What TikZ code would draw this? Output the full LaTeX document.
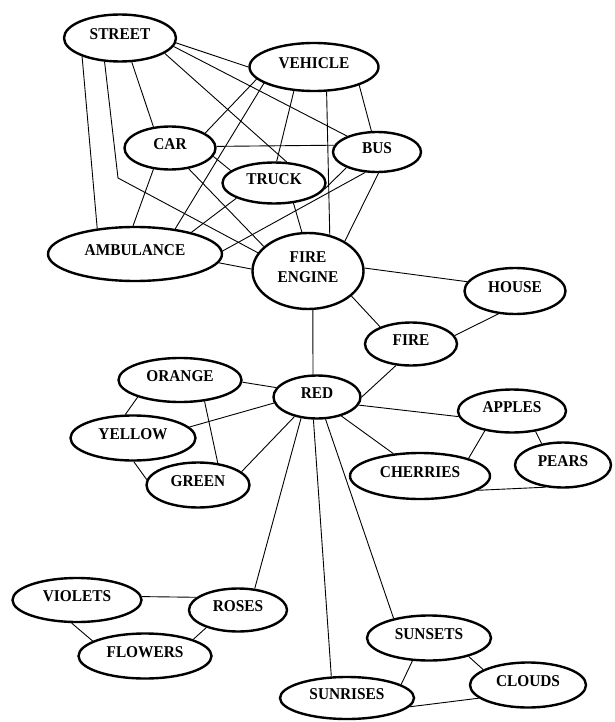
\documentclass[tikz,border=0pt]{standalone}
\usepackage{fontspec}
\setmainfont{Liberation Serif}[FakeStretch=0.93]
\usetikzlibrary{shapes.geometric}
\begin{document}
\begin{tikzpicture}[
        x=1pt, y=-1pt, line width=0.9pt,
        ovalnode/.style={
            draw, ellipse, line width=2.4pt, inner sep=0pt,
            minimum height=44pt, text depth=7pt,
            font=\fontsize{16.5}{20}\selectfont\bfseries
        }
    ]
    \useasboundingbox (0,0) rectangle (614,722);
    \node[ovalnode, minimum width=112pt, minimum height=47pt] (STREET) at (120, 38) {STREET};
    \node[ovalnode, minimum width=129pt, minimum height=48pt] (VEHICLE) at (314, 67) {VEHICLE};
    \node[ovalnode, minimum width=91pt, minimum height=43pt] (CAR) at (170, 148) {CAR};
    \node[ovalnode, minimum width=88pt, minimum height=40pt] (BUS) at (377, 152) {BUS};
    \node[ovalnode, minimum width=103pt, minimum height=41pt] (TRUCK) at (274, 183) {TRUCK};
    \node[ovalnode, minimum width=174pt, minimum height=54pt] (AMBULANCE) at (135, 254) {AMBULANCE};
    \node[ovalnode, minimum width=111pt, minimum height=76pt, align=center] (FIREENGINE) at (308, 271) {FIRE\\ENGINE};
    \node[ovalnode, minimum width=101pt, minimum height=46pt] (HOUSE) at (515, 291) {HOUSE};
    \node[ovalnode, minimum width=92pt, minimum height=43pt] (FIRE) at (411, 344) {FIRE};
    \node[ovalnode, minimum width=87pt, minimum height=43pt] (RED) at (317, 397) {RED};
    \node[ovalnode, minimum width=123pt] (ORANGE) at (180, 380) {ORANGE};
    \node[ovalnode, minimum width=125pt, minimum height=45pt] (YELLOW) at (133, 438) {YELLOW};
    \node[ovalnode, minimum width=103pt, minimum height=45pt] (GREEN) at (198, 485) {GREEN};
    \node[ovalnode, minimum width=108pt, minimum height=43pt] (APPLES) at (512, 411) {APPLES};
    \node[ovalnode, minimum width=140pt, minimum height=46pt] (CHERRIES) at (420, 476) {CHERRIES};
    \node[ovalnode, minimum width=96pt, minimum height=45pt] (PEARS) at (563, 465) {PEARS};
    \node[ovalnode, minimum width=129pt] (VIOLETS) at (77, 600) {VIOLETS};
    \node[ovalnode, minimum width=98pt, minimum height=43pt] (ROSES) at (238, 610) {ROSES};
    \node[ovalnode, minimum width=133pt, minimum height=45pt] (FLOWERS) at (145, 656) {FLOWERS};
    \node[ovalnode, minimum width=124pt, minimum height=45pt] (SUNSETS) at (429, 638) {SUNSETS};
    \node[ovalnode, minimum width=116pt, minimum height=45pt] (CLOUDS) at (528, 685) {CLOUDS};
    \node[ovalnode, minimum width=134pt, minimum height=42pt] (SUNRISES) at (347, 698) {SUNRISES};
    \coordinate (BEND) at (118, 178);

    % links
    \draw (STREET.-5) -- (VEHICLE.180);
    \draw (STREET.-9) -- (BUS.152);
    \draw (STREET.-19) -- (TRUCK.59);
    \draw (STREET.-64) -- (CAR.128);
    \draw (STREET.206) -- (AMBULANCE.146);
    \draw (STREET.237) -- (BEND) -- (FIREENGINE.160);
    \draw (VEHICLE.192) -- (CAR.23);
    \draw (VEHICLE.198) -- (AMBULANCE.32);
    \draw (VEHICLE.230) -- (TRUCK.83);
    \draw (VEHICLE.-63) -- (FIREENGINE.59);
    \draw (VEHICLE.-22) -- (BUS.105);
    \draw (CAR.2) -- (BUS.171);
    \draw (CAR.-11) -- (TRUCK.164);
    \draw (CAR.-48) -- (FIREENGINE.151);
    \draw (CAR.232) -- (AMBULANCE.94);
    \draw (TRUCK.202) -- (AMBULANCE.21);
    \draw (TRUCK.-46) -- (FIREENGINE.99);
    \draw (BUS.207) -- (TRUCK.-7);
    \draw (BUS.240) -- (AMBULANCE.2);
    \draw (BUS.-86) -- (FIREENGINE.39);
    \draw (AMBULANCE.-6) -- (FIREENGINE.178);
    \draw (FIREENGINE.3) -- (HOUSE.169);
    \draw (FIREENGINE.-30) -- (FIRE.151);
    \draw (FIREENGINE.-83) -- (RED.100);
    \draw (FIRE.11) -- (HOUSE.234);
    \draw (FIRE.235) -- (RED.0);
    \draw (RED.167) -- (ORANGE.-2);
    \draw (RED.188) -- (YELLOW.11);
    \draw (RED.221) -- (GREEN.17);
    \draw (RED.-11) -- (APPLES.186);
    \draw (RED.-38) -- (CHERRIES.140);
    \draw (RED.233) -- (ROSES.52);
    \draw (RED.261) -- (SUNRISES.126);
    \draw (RED.-69) -- (SUNSETS.151);
    \draw (ORANGE.202) -- (YELLOW.108);
    \draw (ORANGE.-41) -- (GREEN.48);
    \draw (YELLOW.-88) -- (GREEN.174);
    \draw (APPLES.216) -- (CHERRIES.20);
    \draw (APPLES.-41) -- (PEARS.135);
    \draw (CHERRIES.-14) -- (PEARS.232);
    \draw (VIOLETS.3) -- (ROSES.163);
    \draw (VIOLETS.257) -- (FLOWERS.164);
    \draw (ROSES.209) -- (FLOWERS.19);
    \draw (SUNSETS.234) -- (SUNRISES.14);
    \draw (SUNSETS.-25) -- (CLOUDS.161);
    \draw (SUNRISES.-8) -- (CLOUDS.195);
\end{tikzpicture}
\end{document}
